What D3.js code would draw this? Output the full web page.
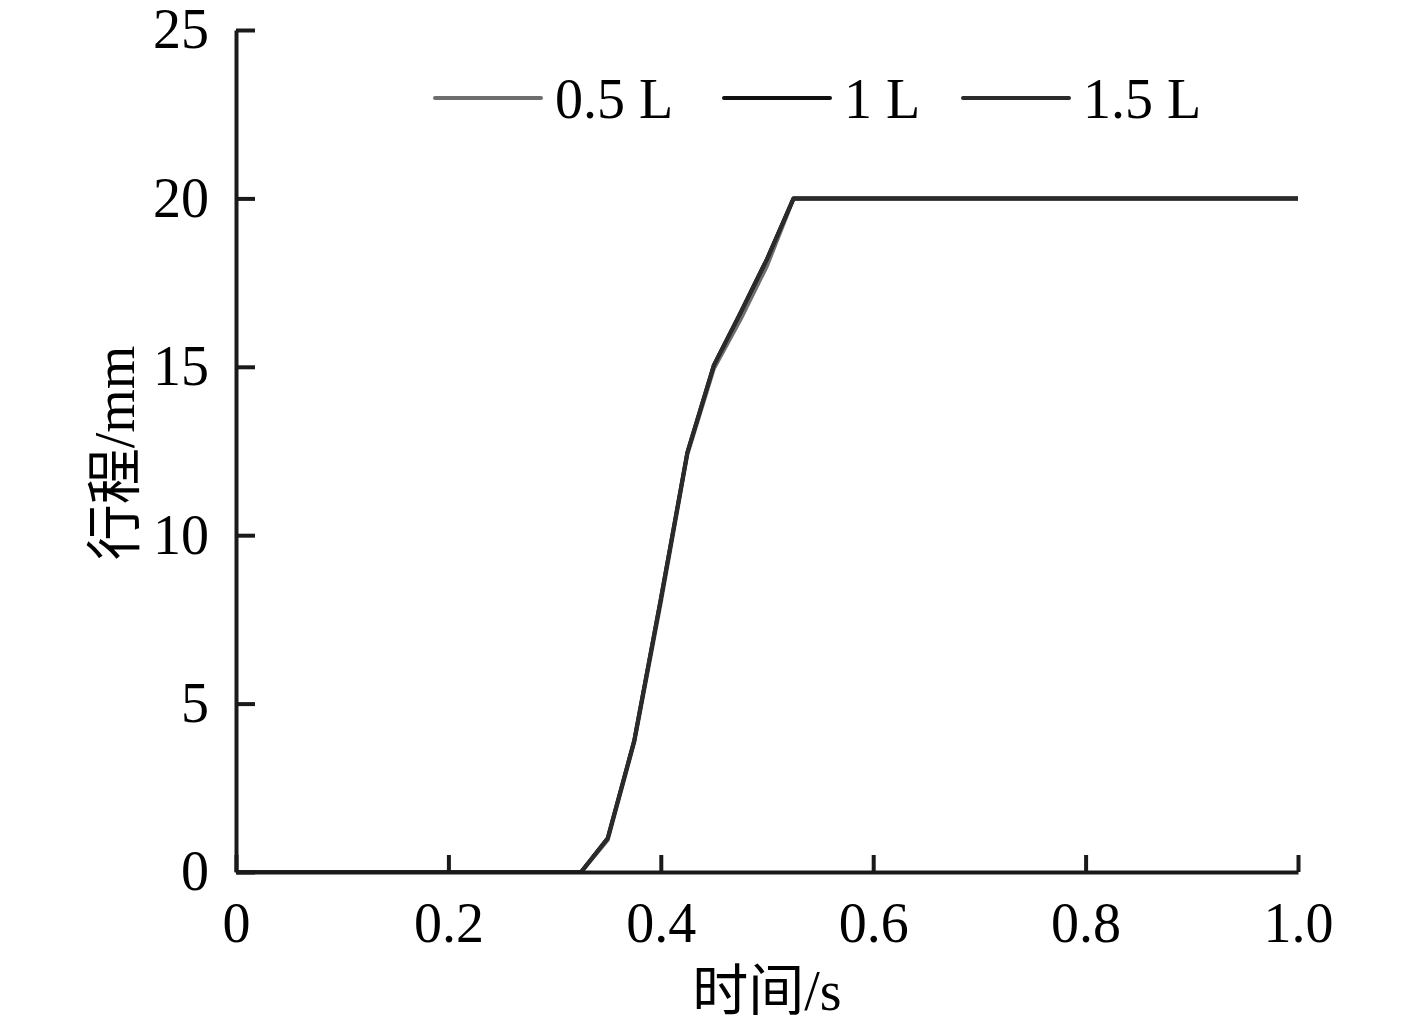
<!DOCTYPE html>
<html>
<head>
<meta charset="utf-8">
<script src="https://cdn.jsdelivr.net/npm/d3@7"></script>
<style>
  body { margin: 0; background: #fff; }
  text { font-family: "Liberation Serif", "Noto Sans CJK SC", serif; }
</style>
</head>
<body>
<svg id="Viz"></svg>
<script>
width = 1417,
height = 1032;

// data
var seriesNames = ["0.5 L", "1 L", "1.5 L"];
var seriesColors = ["#6e6e6e", "#111111", "#2b2b2b"];
var time = [0, 0.325, 0.35, 0.375, 0.4, 0.425, 0.45, 0.475, 0.5, 0.525, 1.0];
var stroke05 = [0, 0, 0.95, 3.85, 8.0, 12.4, 14.95, 16.4, 18.0, 20, 20];
var stroke10 = [0, 0, 1.0, 3.9, 8.1, 12.45, 15.05, 16.6, 18.2, 20, 20];
var stroke15 = [0, 0, 1.0, 3.9, 8.1, 12.45, 15.05, 16.6, 18.2, 20, 20];
var xTicks = [0, 0.2, 0.4, 0.6, 0.8, 1.0];
var xTickLabels = ["0", "0.2", "0.4", "0.6", "0.8", "1.0"];
var yTicks = [0, 5, 10, 15, 20, 25];

function draw() {
  var svg = d3.select("#Viz").attr("width", width).attr("height", height);

  var x = d3.scaleLinear().domain([0, 1]).range([236, 1298]);
  var y = d3.scaleLinear().domain([0, 25]).range([872, 30]);

  var series = [stroke05, stroke10, stroke15].map(function(vals, i) {
    return { name: seriesNames[i], color: seriesColors[i],
             pts: time.map(function(t, j) { return [t, vals[j]]; }) };
  });

  var line = d3.line()
    .x(function(d) { return x(d[0]); })
    .y(function(d) { return y(d[1]); });

  // curves
  svg.append("g")
    .selectAll("path")
    .data(series)
    .enter()
    .append("path")
      .attr("d", function(d) { return line(d.pts); })
      .attr("fill", "none")
      .attr("stroke", function(d) { return d.color; })
      .attr("stroke-width", 4)
      .attr("stroke-linejoin", "round");

  // x axis, ticks pointing inward
  var xAxis = svg.append("g")
    .attr("transform", "translate(0,872)")
    .call(d3.axisBottom(x).tickValues(xTicks)
      .tickFormat(function(d, i) { return xTickLabels[i]; })
      .tickSize(-17).tickSizeOuter(0).tickPadding(30));
  xAxis.select(".domain").attr("stroke", "#1a1a1a").attr("stroke-width", 4);
  xAxis.selectAll(".tick line").attr("stroke", "#1a1a1a").attr("stroke-width", 4);
  xAxis.selectAll(".tick text")
    .attr("font-size", 56).attr("fill", "#000")
    .attr("font-family", "Liberation Serif");

  // y axis
  var yAxis = svg.append("g")
    .attr("transform", "translate(236,0)")
    .call(d3.axisLeft(y).tickValues(yTicks)
      .tickSize(-19).tickSizeOuter(0).tickPadding(27));
  yAxis.select(".domain").attr("stroke", "#1a1a1a").attr("stroke-width", 4);
  yAxis.selectAll(".tick line").attr("stroke", "#1a1a1a").attr("stroke-width", 4);
  yAxis.selectAll(".tick text")
    .attr("font-size", 56).attr("fill", "#000")
    .attr("font-family", "Liberation Serif");

  // axis titles
  svg.append("text")
    .attr("x", 767).attr("y", 1010)
    .attr("text-anchor", "middle")
    .attr("font-size", 56)
    .text("时间/s");

  svg.append("text")
    .attr("transform", "translate(134,453) rotate(-90)")
    .attr("text-anchor", "middle")
    .attr("font-size", 56)
    .text("行程/mm");

  // legend
  var legX = [435, 724, 963];
  var leg = svg.append("g")
    .selectAll("g")
    .data(series)
    .enter()
    .append("g")
      .attr("transform", function(d, i) { return "translate(" + legX[i] + ",98)"; });
  leg.append("line")
    .attr("x1", 0).attr("x2", 106)
    .attr("stroke", function(d) { return d.color; })
    .attr("stroke-width", 4)
    .attr("stroke-linecap", "round");
  leg.append("text")
    .attr("x", 120).attr("y", 20)
    .attr("font-size", 56)
    .text(function(d) { return d.name; });
}

document.addEventListener('DOMContentLoaded', () => {
  draw();
});
</script>
</body>
</html>
